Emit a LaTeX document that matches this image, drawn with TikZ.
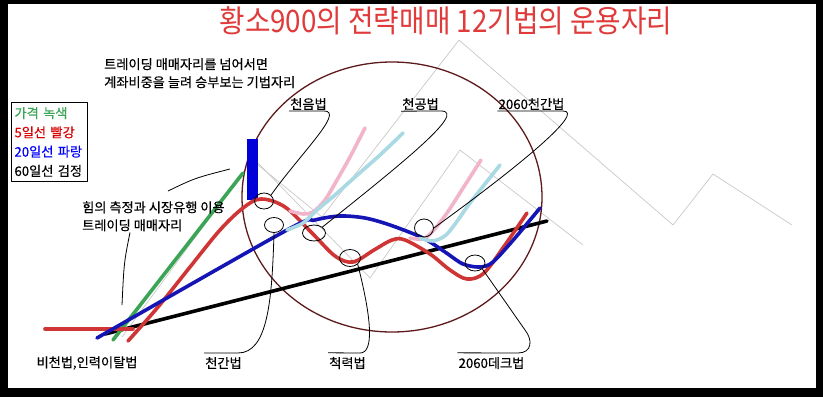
\documentclass[tikz,border=0pt]{standalone}
\usepackage{fontspec}
\newfontfamily\kr[FakeBold=0.4]{Noto Sans CJK KR}
\newfontfamily\krtitle[FakeStretch=0.895]{Noto Sans CJK KR}
\usetikzlibrary{shapes.geometric, calc}
\definecolor{cred}{HTML}{D03535}
\definecolor{ctitle}{HTML}{E03A3A}
\definecolor{cblue}{HTML}{1515B5}
\definecolor{cgreen}{HTML}{3CA455}
\definecolor{cpink}{HTML}{F2B4C8}
\definecolor{csky}{HTML}{A9D9E3}
\definecolor{cring}{HTML}{5E1A1A}
\definecolor{cgrid}{HTML}{C9C9C9}
\tikzset{
  every picture/.style={line join=round},
  lbl/.style={font=\kr\fontsize{13.2}{18}\selectfont, inner sep=1pt, align=left},
  ma/.style={draw=#1, line width=3.6pt, line cap=round},
  ring/.style={draw, ellipse, line width=0.8pt, minimum width=19pt, minimum height=16pt, inner sep=0pt},
  callout/.style={draw, line width=0.8pt},
  grid/.style={draw=cgrid, line width=0.7pt},
}

\begin{document}
\begin{tikzpicture}[x=1pt, y=-1pt]
  \useasboundingbox (0,0) rectangle (823,397);
  % ---- frame
  \fill[black] (0,0) rectangle (823,397);
  \fill[white] (8,4) rectangle (816,388);
  \node[font=\krtitle\fontsize{31}{32}\selectfont, text=ctitle, inner sep=0pt] (ttl) at (446,21) {황소900의 전략매매 12기법의 운용자리};

  % ---- background zigzags
  \draw[grid] (122,337) -- (252,160) -- (322,217) -- (459,40) -- (673,225) -- (713,174) -- (792,225);
  \draw[grid] (258,163) -- (370,278) -- (460,150) -- (583,245);

  % ---- the big ring
  \draw[cring, line width=1.3pt] (392,197) ellipse [x radius=150, y radius=135];

  % ---- averages and price
  \fill[blue!85!black] (247,139) rectangle (258,200);
  \draw[ma=black] (105,334) -- (547,221);
  \draw[ma=cgreen] (113,340) -- (243,173);
  \draw[ma=cred] (45,329) -- (133,329);
  \draw[ma=cred] plot[smooth, tension=0.55] coordinates {(128,341) (158,307) (190,267) (220,230) (243,208) (261,199) (285,207) (312,233) (335,256) (353,262) (374,250) (392,240) (405,240) (430,254) (450,270) (467,279) (484,273) (505,245) (527,213)};
  \draw[ma=cblue] plot[smooth, tension=0.5] coordinates {(97,338) (287,230) (315,220) (340,216) (365,218) (390,225) (423,238) (445,252) (463,264) (480,267) (493,262) (515,238) (540,208)};
  \draw[ma=cpink] plot[smooth, tension=0.5] coordinates {(290,211) (303,214) (313,212) (325,200) (337,180) (350,157) (365,128)};
  \draw[ma=csky] plot[smooth, tension=0.5] coordinates {(287,230) (303,223) (317,210) (335,195) (355,177) (380,155) (403,133)};
  \draw[ma=cpink] plot[smooth, tension=0.5] coordinates {(410,238) (423,239) (433,231) (447,213) (465,185) (481,160)};
  \draw[ma=csky] plot[smooth, tension=0.5] coordinates {(420,238) (433,241) (446,235) (458,220) (470,203) (500,165)};

  % ---- small rings
  \node[ring] (r1) at (264,201) {};
  \node[ring, minimum height=15pt] (r2) at (274,225) {};
  \node[ring, minimum width=23pt] (r3) at (314,233) {};
  \node[ring, minimum width=21pt, minimum height=17pt] (r4) at (350,258) {};
  \node[ring, minimum height=18pt] (r5) at (424,228) {};
  \node[ring, minimum width=20pt] (r6) at (475,263) {};

  % ---- legend and notes
  \node[draw, line width=1pt, anchor=north west, text width=70pt, minimum height=79pt, inner xsep=3pt,
        font=\kr\fontsize{13.2}{19.3}\selectfont, align=left] (lgd) at (11,102)
        {\textcolor{cgreen}{가격 녹색}\\\textcolor{red!85!black}{5일선 빨강}\\\textcolor{blue}{20일선 파랑}\\60일선 검정};
  \node[lbl, anchor=north west] (t1) at (103,57) {트레이딩 매매자리를 넘어서면\\계좌비중을 늘려 승부보는 기법자리};
  \node[lbl, anchor=north west] (t2) at (81,200) {힘의 측정과 시장유행 이용\\트레이딩 매매자리};

  % ---- labels
  \node[lbl] (c1) at (308.5,104) {천음법};
  \node[lbl] (c2) at (420.5,104) {천공법};
  \node[lbl] (c3) at (531.5,104) {2060천간법};
  \node[lbl] (b0) at (87,363) {비천법,인력이탈법};
  \node[lbl] (b1) at (223.5,363) {천간법};
  \node[lbl] (b2) at (347.5,363) {척력법};
  \node[lbl] (b3) at (491.5,363) {2060데크법};

  % ---- callouts
  \draw[callout] (c1.south west) -- (324,111) .. controls (345,111) and (301,153) .. (r1.north east);
  \draw[callout] (c2.south west) -- (441,111) .. controls (468,111) and (400,165) .. (r3.north east);
  \draw[callout] (c3.south west) -- (563,111) .. controls (585,111) and (525,162) .. (r5.east);
  \draw[callout] (r2.south) .. controls (272,300) and (268,353) .. (238,353) -- ([yshift=3pt]b1.north west);
  \draw[callout] (r4.south east) .. controls (372,320) and (374,353) .. (360,353) -- ([yshift=3pt]b2.north west);
  \draw[callout] (r6.south east) -- (525,330) .. controls (533,340) and (532,353) .. (518,353) -- ([yshift=3pt]b3.north west);
  \coordinate (h1) at (122,305);
  \draw[callout] ([xshift=49pt]t2.south west) .. controls +(-6,30) .. (h1);
  \coordinate (q1) at (168,191);
  \coordinate (q2) at (230,169);
  \draw[callout] (q1) .. controls (195,178) .. (q2);
\end{tikzpicture}
\end{document}
